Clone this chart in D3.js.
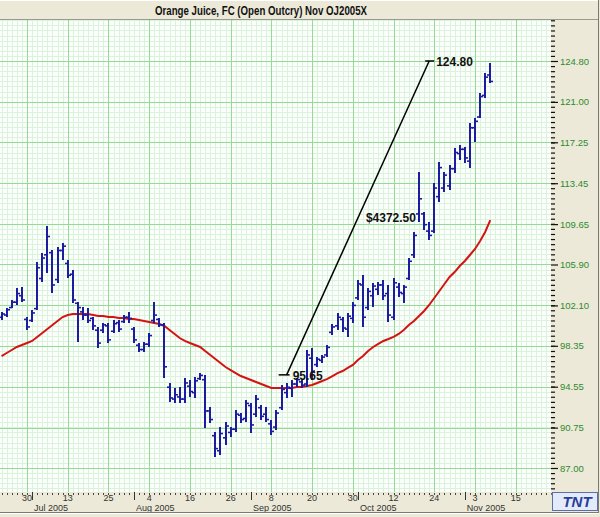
<!DOCTYPE html>
<html><head><meta charset="utf-8">
<script src="https://cdn.jsdelivr.net/npm/d3@7"></script>
<style>body{margin:0;background:#ECE9D8;} svg{display:block}</style>
</head><body><svg id="c" width="600" height="517"></svg>
<script>
const title = "Orange Juice, FC (Open Outcry) Nov OJ2005X";
const leadDays = ["2005-06-20","2005-06-21","2005-06-22"];
const barDates = [
"2005-06-23","2005-06-24","2005-06-27","2005-06-28","2005-06-29","2005-06-30",
"2005-07-01","2005-07-05","2005-07-06","2005-07-07","2005-07-08","2005-07-11","2005-07-12","2005-07-13","2005-07-14","2005-07-15",
"2005-07-18","2005-07-19","2005-07-20","2005-07-21","2005-07-22","2005-07-25","2005-07-26","2005-07-27","2005-07-28","2005-07-29",
"2005-08-01","2005-08-02","2005-08-03","2005-08-04","2005-08-05","2005-08-08","2005-08-09","2005-08-10","2005-08-11","2005-08-12",
"2005-08-15","2005-08-16","2005-08-17","2005-08-18","2005-08-19","2005-08-22","2005-08-23","2005-08-24","2005-08-25","2005-08-26",
"2005-08-29","2005-08-30","2005-08-31",
"2005-09-01","2005-09-02","2005-09-06","2005-09-07","2005-09-08","2005-09-09","2005-09-12","2005-09-13","2005-09-14","2005-09-15",
"2005-09-16","2005-09-19","2005-09-20","2005-09-21","2005-09-22","2005-09-23","2005-09-26","2005-09-27","2005-09-28","2005-09-29","2005-09-30",
"2005-10-03","2005-10-04","2005-10-05","2005-10-06","2005-10-07","2005-10-10","2005-10-11","2005-10-12","2005-10-13","2005-10-14",
"2005-10-17","2005-10-18","2005-10-19","2005-10-20","2005-10-21","2005-10-24","2005-10-25","2005-10-26","2005-10-27","2005-10-28","2005-10-31",
"2005-11-01","2005-11-02","2005-11-03","2005-11-04","2005-11-07","2005-11-08"];
const tailDays = ["2005-11-09","2005-11-10","2005-11-11","2005-11-14","2005-11-15","2005-11-16","2005-11-17","2005-11-18","2005-11-21","2005-11-22","2005-11-23","2005-11-25","2005-11-28"];

const highs = [101.49,101.86,102.60,103.72,103.81,101.02,101.67,106.13,106.97,109.48,107.25,107.53,107.90,106.32,105.39,102.42,101.95,101.86,101.02,100.10,
100.47,100.47,100.75,100.75,101.21,101.49,100.10,98.61,98.70,99.54,102.42,100.93,100.47,94.89,94.43,94.52,95.36,95.17,95.45,95.82,
95.64,92.67,90.34,90.81,91.27,90.81,92.39,92.11,93.32,93.04,93.78,92.85,92.67,91.46,92.39,94.71,94.89,95.17,95.36,95.17,
97.96,98.15,97.31,97.50,98.42,100.37,101.40,101.02,101.40,102.42,104.46,104.93,103.72,104.18,104.27,104.46,104.00,104.65,104.18,104.00,
106.50,108.92,114.49,110.78,109.85,113.47,115.42,114.49,115.14,116.72,117.00,116.81,119.04,119.51,121.83,123.69,124.61];
const lows = [100.75,101.02,101.86,102.14,102.42,99.82,100.56,101.67,104.27,105.11,103.25,104.18,106.32,104.65,102.32,98.70,100.75,100.47,99.82,98.15,
99.54,98.61,99.54,99.63,100.47,100.47,98.61,97.77,97.77,98.24,100.47,100.10,95.36,93.13,93.04,93.04,93.04,93.59,93.50,95.17,
90.72,91.18,88.02,88.21,89.14,89.88,90.34,91.18,91.27,90.25,91.74,91.46,91.27,90.06,90.53,92.39,93.50,93.59,94.52,94.43,
94.52,95.17,96.38,96.75,97.31,99.35,99.82,99.63,99.17,100.47,102.60,100.10,101.67,101.95,103.07,102.60,100.56,100.75,102.88,102.32,
104.46,106.50,109.85,109.11,108.18,108.83,111.71,112.63,112.82,114.40,115.61,115.33,114.86,117.28,119.51,121.36,122.76];
const opens = [101.0,101.2,101.9,102.4,103.0,100.8,100.7,101.8,104.6,106.8,107.0,104.5,107.2,106.0,105.0,102.3,101.5,101.2,100.9,99.8,
99.8,100.2,99.7,100.5,100.6,101.0,99.9,98.4,98.0,98.5,100.7,100.8,100.3,94.5,93.4,93.6,93.4,94.6,94.0,95.3,
95.2,92.3,90.0,88.6,89.8,90.3,90.6,91.9,91.6,92.8,92.0,92.6,92.0,91.1,90.8,92.6,94.0,94.4,94.8,95.0,
94.8,97.2,96.6,97.0,97.5,99.6,100.2,100.8,99.9,100.9,102.8,104.0,101.9,103.0,103.6,104.0,103.2,101.0,103.8,103.2,
104.6,106.8,110.6,110.6,109.0,109.0,112.2,113.0,113.2,114.8,116.2,116.6,115.5,118.6,119.6,121.6,123.5];
const closes = [101.3,101.7,102.4,103.2,102.6,100.1,101.4,105.6,106.5,108.5,104.0,107.2,107.6,104.9,102.6,101.9,101.2,100.7,100.2,98.6,
100.3,98.9,100.4,99.9,101.0,100.9,98.9,98.0,98.5,99.3,101.2,100.3,96.4,93.5,93.8,93.4,94.9,94.1,95.1,95.6,
92.3,91.5,88.8,90.2,90.9,90.6,92.0,91.5,93.0,91.0,93.4,91.8,91.5,90.4,92.1,94.3,94.5,94.8,95.2,94.7,
97.5,96.0,97.1,97.3,98.2,100.1,101.0,100.0,101.1,102.1,104.1,101.0,103.4,103.9,104.0,103.0,101.2,104.2,103.3,103.8,
106.2,108.6,112.0,109.6,108.6,113.0,114.9,114.2,114.8,116.3,116.6,115.8,118.6,119.2,121.5,123.3,122.9];
const movingAvg = [97.40,97.68,97.96,98.24,98.42,98.61,98.80,99.17,99.54,99.91,100.28,100.65,101.02,101.21,101.30,101.30,101.30,101.30,101.21,101.12,
101.12,101.02,101.02,100.93,100.93,100.84,100.84,100.75,100.65,100.56,100.47,100.37,100.19,99.82,99.45,99.07,98.80,98.61,98.42,98.24,
97.87,97.50,97.12,96.75,96.38,96.10,95.82,95.54,95.36,95.17,94.99,94.80,94.62,94.43,94.43,94.43,94.43,94.43,94.52,94.52,
94.62,94.71,94.89,95.08,95.27,95.54,95.82,96.01,96.29,96.57,97.03,97.40,97.87,98.24,98.52,98.80,98.98,99.17,99.45,99.82,
100.28,100.65,101.12,101.58,102.14,102.79,103.44,104.09,104.74,105.20,105.76,106.23,106.78,107.34,108.08,108.92,110.03];

const yTicks = [87.00, 90.75, 94.55, 98.35, 102.10, 105.90, 109.65, 113.45, 117.25, 121.00, 124.80];
const dayLabels = [["2005-06-30","30"],["2005-07-13","13"],["2005-07-25","25"],["2005-08-04","4"],["2005-08-16","16"],["2005-08-26","26"],
  ["2005-09-08","8"],["2005-09-20","20"],["2005-09-30","30"],["2005-10-12","12"],["2005-10-24","24"],["2005-11-03","3"],["2005-11-15","15"]];
const monthLabels = [["2005-07-01","Jul 2005"],["2005-08-01","Aug 2005"],["2005-09-01","Sep 2005"],["2005-10-03","Oct 2005"],["2005-11-01","Nov 2005"]];
const annStart = ["2005-09-13", 95.65, "95.65"];
const annEnd = ["2005-10-21", 124.80, "124.80"];
const annGain = "$4372.50";

// ---- layout ----
const W = 600, H = 517;
const plot = {l: 0, t: 20, r: 551, b: 492};
const allDays = leadDays.concat(barDates, tailDays);
const step = 5.091;
const refIdx = allDays.indexOf("2005-06-30");
const x = d3.scalePoint().domain(allDays)
  .range([27 - refIdx*step, 27 + (allDays.length - 1 - refIdx)*step]);
const y = d3.scaleLinear().domain([yTicks[0], yTicks[yTicks.length-1]]).range([468, 61]);

const bars = barDates.map((d,i)=>({d, h:highs[i], l:lows[i], o:opens[i], c:closes[i], m:movingAvg[i]}));

const svg = d3.select("#c");
svg.append("rect").attr("width",W).attr("height",H).attr("fill","#ECE9D8");
svg.append("defs").append("clipPath").attr("id","clip").append("rect")
  .attr("x",plot.l).attr("y",plot.t).attr("width",plot.r-plot.l).attr("height",plot.b-plot.t);

// title bar
svg.append("rect").attr("x",0).attr("y",0).attr("width",598).attr("height",19).attr("fill","#ECE9D8");
svg.append("line").attr("x1",0).attr("x2",598).attr("y1",0.5).attr("y2",0.5).attr("stroke","#fff");
svg.append("line").attr("x1",0).attr("x2",598).attr("y1",19.5).attr("y2",19.5).attr("stroke","#9a9a90");
svg.append("text").attr("x",261).attr("y",14.5).attr("text-anchor","middle")
  .attr("textLength",212).attr("lengthAdjust","spacingAndGlyphs")
  .style("font","bold 12px 'Liberation Sans',Arial,sans-serif").attr("fill","#111").text(title);

const pg = svg.append("g").attr("clip-path","url(#clip)");
pg.append("rect").attr("x",plot.l).attr("y",plot.t).attr("width",plot.r-plot.l).attr("height",plot.b-plot.t).attr("fill","#fbfffb");

// minor grid
const minorStep = (yTicks[yTicks.length-1]-yTicks[0])/(yTicks.length-1)/8;
const yMin = y.invert(plot.b), yMax = y.invert(plot.t);
const minorY = d3.range(yTicks[0] - Math.ceil((yTicks[0]-yMin)/minorStep)*minorStep, yMax, minorStep);
pg.selectAll("line.mvx").data(allDays).join("line").attr("class","mvx")
  .attr("x1",d=>Math.round(x(d))+0.5).attr("x2",d=>Math.round(x(d))+0.5).attr("y1",plot.t).attr("y2",plot.b)
  .attr("stroke","#dcf2dc").attr("stroke-width",1);
pg.selectAll("line.mhy").data(minorY).join("line").attr("class","mhy")
  .attr("x1",plot.l).attr("x2",plot.r).attr("y1",d=>Math.round(y(d))+0.5).attr("y2",d=>Math.round(y(d))+0.5)
  .attr("stroke","#dcf2dc").attr("stroke-width",1);
// major grid
pg.selectAll("line.gx").data(dayLabels).join("line").attr("class","gx")
  .attr("x1",d=>Math.round(x(d[0]))+0.5).attr("x2",d=>Math.round(x(d[0]))+0.5).attr("y1",plot.t).attr("y2",plot.b)
  .attr("stroke","#94dc94").attr("stroke-width",1);
pg.selectAll("line.gy").data(yTicks).join("line").attr("class","gy")
  .attr("x1",plot.l).attr("x2",plot.r).attr("y1",d=>Math.round(y(d))+0.5).attr("y2",d=>Math.round(y(d))+0.5)
  .attr("stroke","#94dc94").attr("stroke-width",1);

// moving average
pg.append("path").datum(bars)
  .attr("d", d3.line().x(b=>x(b.d)).y(b=>y(b.m)).curve(d3.curveLinear))
  .attr("fill","none").attr("stroke","#d41414").attr("stroke-width",2);

// OHLC bars
const barColor = "#1c1ca0";
const bg = pg.append("g");
bg.selectAll("line.hl").data(bars).join("line").attr("class","hl")
  .attr("x1",b=>Math.round(x(b.d))).attr("x2",b=>Math.round(x(b.d)))
  .attr("y1",b=>y(b.h)).attr("y2",b=>y(b.l)).attr("stroke",barColor).attr("stroke-width",2);
bg.selectAll("line.op").data(bars).join("line").attr("class","op")
  .attr("x1",b=>Math.round(x(b.d))-3).attr("x2",b=>Math.round(x(b.d)))
  .attr("y1",b=>y(b.o)).attr("y2",b=>y(b.o)).attr("stroke",barColor).attr("stroke-width",1.6);
bg.selectAll("line.cl").data(bars).join("line").attr("class","cl")
  .attr("x1",b=>Math.round(x(b.d))).attr("x2",b=>Math.round(x(b.d))+3)
  .attr("y1",b=>y(b.c)).attr("y2",b=>y(b.c)).attr("stroke",barColor).attr("stroke-width",1.6);

// annotation
const ax1 = x(annStart[0]), ay1 = y(annStart[1]), ax2 = x(annEnd[0]), ay2 = y(annEnd[1]);
const ag = pg.append("g");
ag.append("line").attr("x1",ax1).attr("y1",ay1).attr("x2",ax2).attr("y2",ay2).attr("stroke","#000").attr("stroke-width",1.5);
ag.append("line").attr("x1",ax1-8).attr("x2",ax1+3).attr("y1",ay1).attr("y2",ay1).attr("stroke","#000").attr("stroke-width",1.5);
ag.append("line").attr("x1",ax2-4).attr("x2",ax2+5).attr("y1",ay2).attr("y2",ay2).attr("stroke","#000").attr("stroke-width",1.5);
const annFont = "bold 12px 'Liberation Sans',Arial,sans-serif";
ag.append("text").attr("x",ax1+6).attr("y",ay1+5).style("font",annFont).attr("fill","#111").text(annStart[2]);
ag.append("text").attr("x",ax2+7).attr("y",ay2+5).style("font",annFont).attr("fill","#111").text(annEnd[2]);
ag.append("text").attr("x",(ax1+ax2)/2+8).attr("y",(ay1+ay2)/2+4).style("font",annFont).attr("fill","#111").text(annGain);

// right axis
const axFont = "9.5px 'Liberation Sans',Arial,sans-serif";
const btFont = "9px 'Liberation Sans',Arial,sans-serif";
const minorTickVals = minorY.filter(v => !yTicks.some(t => Math.abs(t - v) < 1e-6));
const gyMinor = svg.append("g").attr("transform",`translate(${plot.r},0)`)
  .call(d3.axisRight(y).tickValues(minorTickVals).tickSize(4).tickFormat(""));
gyMinor.select(".domain").remove();
gyMinor.selectAll("line").attr("stroke","#111").attr("stroke-width",1.2);
const gy = svg.append("g").attr("transform",`translate(${plot.r},0)`)
  .call(d3.axisRight(y).tickValues(yTicks).tickSize(7).tickPadding(2).tickFormat(d3.format(".2f")));
gy.select(".domain").remove();
gy.selectAll("line").attr("stroke","#111").attr("stroke-width",1.2);
gy.selectAll("text").attr("fill","#2f8a2f").style("font",axFont);

// bottom axis
const gx = svg.append("g");
gx.selectAll("rect.dot").data(allDays.filter(d=>x(d)>=0 && x(d)<plot.r)).join("rect").attr("class","dot")
  .attr("x",d=>Math.round(x(d))).attr("y",493).attr("width",1).attr("height",2).attr("fill","#444");
gx.selectAll("line.mt").data(monthLabels).join("line").attr("class","mt")
  .attr("x1",d=>Math.round(x(d[0]))+0.5).attr("x2",d=>Math.round(x(d[0]))+0.5).attr("y1",492).attr("y2",500)
  .attr("stroke","#333").attr("stroke-width",1);
gx.selectAll("text.dl").data(dayLabels).join("text").attr("class","dl")
  .attr("x",d=>x(d[0])).attr("y",500.5).attr("text-anchor","middle").style("font",btFont).attr("fill","#333").text(d=>d[1]);
gx.selectAll("text.ml").data(monthLabels).join("text").attr("class","ml")
  .attr("x",d=>x(d[0])+2).attr("y",510.5).style("font",btFont).attr("fill","#333").text(d=>d[1]);

// frame
svg.append("line").attr("x1",598.5).attr("x2",598.5).attr("y1",0).attr("y2",513).attr("stroke","#7a7a70");
svg.append("line").attr("x1",0).attr("x2",599).attr("y1",512.5).attr("y2",512.5).attr("stroke","#7a7a70");
svg.append("line").attr("x1",0).attr("x2",599).attr("y1",513.5).attr("y2",513.5).attr("stroke","#fff");

// logo
const lg = svg.append("g");
lg.append("rect").attr("x",552.5).attr("y",492.5).attr("width",45).attr("height",18).attr("fill","#e4ebf8").attr("stroke","#5b6fb0");
lg.append("text").attr("x",577).attr("y",507).attr("text-anchor","middle")
  .style("font","italic bold 15px 'Liberation Sans',Arial,sans-serif").attr("fill","#2a3f9a").text("TNT");
</script></body></html>
